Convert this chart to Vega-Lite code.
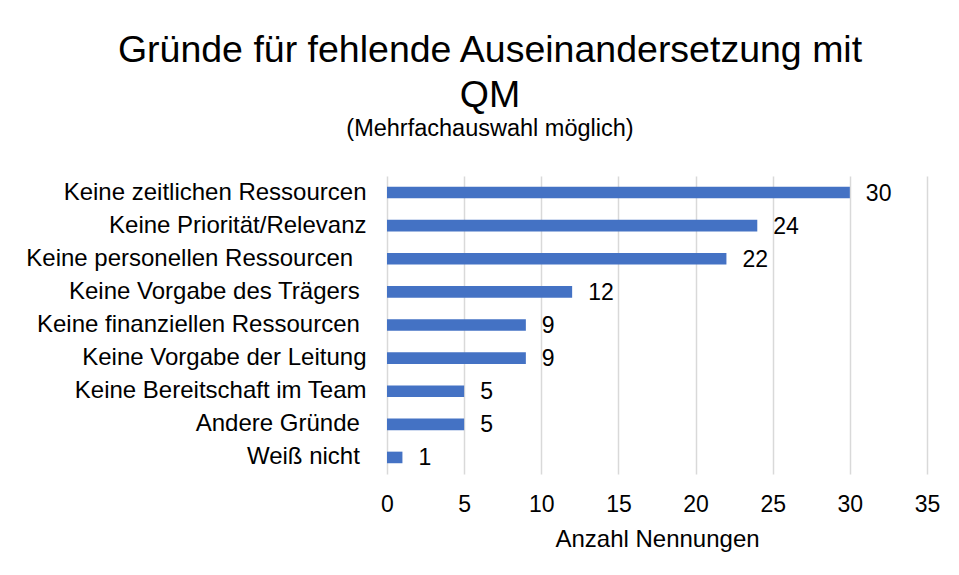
{
  "$schema": "https://vega.github.io/schema/vega-lite/v6.json",
  "width": 540,
  "height": 298,
  "autosize": {"type": "none"},
  "padding": {"left": 387, "top": 176, "right": 32, "bottom": 101},
  "background": "white",
  "title": {
    "text": ["Gründe für fehlende Auseinandersetzung mit", "QM"],
    "subtitle": "(Mehrfachauswahl möglich)",
    "anchor": "middle",
    "frame": "group",
    "dx": -167,
    "offset": 36,
    "font": "Liberation Sans",
    "fontSize": 37.5,
    "fontWeight": "normal",
    "color": "#000000",
    "lineHeight": 45,
    "subtitleFont": "Liberation Sans",
    "subtitleFontSize": 23.5,
    "subtitleColor": "#000000",
    "subtitlePadding": 2
  },
  "data": {
    "values": [
      {"grund": "Keine zeitlichen Ressourcen", "anzahl": 30},
      {"grund": "Keine Priorität/Relevanz", "anzahl": 24},
      {"grund": "Keine personellen Ressourcen\u00a0\u00a0\u200b", "anzahl": 22},
      {"grund": "Keine Vorgabe des Trägers\u00a0\u200b", "anzahl": 12},
      {"grund": "Keine finanziellen Ressourcen\u00a0\u200b", "anzahl": 9},
      {"grund": "Keine Vorgabe der Leitung", "anzahl": 9},
      {"grund": "Keine Bereitschaft im Team", "anzahl": 5},
      {"grund": "Andere Gründe\u00a0\u200b", "anzahl": 5},
      {"grund": "Weiß nicht\u00a0\u200b", "anzahl": 1}
    ]
  },
  "encoding": {
    "y": {
      "field": "grund",
      "type": "nominal",
      "sort": null,
      "scale": {"paddingInner": 0.65, "paddingOuter": 0.325},
      "axis": {
        "title": null,
        "domain": false,
        "ticks": false,
        "labelFont": "Liberation Sans",
        "labelFontSize": 24,
        "labelColor": "#000000",
        "labelPadding": 21,
        "labelLimit": 400
      }
    },
    "x": {
      "field": "anzahl",
      "type": "quantitative",
      "scale": {"domain": [0, 35]},
      "axis": {
        "title": "Anzahl Nennungen",
        "values": [0, 5, 10, 15, 20, 25, 30, 35],
        "domain": false,
        "ticks": false,
        "grid": true,
        "gridColor": "#D9D9D9",
        "gridWidth": 1.5,
        "labelFlush": false,
        "labelFont": "Liberation Sans",
        "labelFontSize": 23,
        "labelColor": "#000000",
        "labelPadding": 19,
        "titleFont": "Liberation Sans",
        "titleFontSize": 24,
        "titleFontWeight": "normal",
        "titleColor": "#000000",
        "titlePadding": 11
      }
    }
  },
  "layer": [
    {"mark": {"type": "bar", "color": "#4472C4"}},
    {
      "mark": {
        "type": "text",
        "align": "left",
        "baseline": "middle",
        "dx": 16,
        "dy": 1,
        "font": "Liberation Sans",
        "fontSize": 23,
        "color": "#000000"
      },
      "encoding": {"text": {"field": "anzahl", "type": "quantitative"}}
    }
  ],
  "config": {"view": {"stroke": null}}
}
